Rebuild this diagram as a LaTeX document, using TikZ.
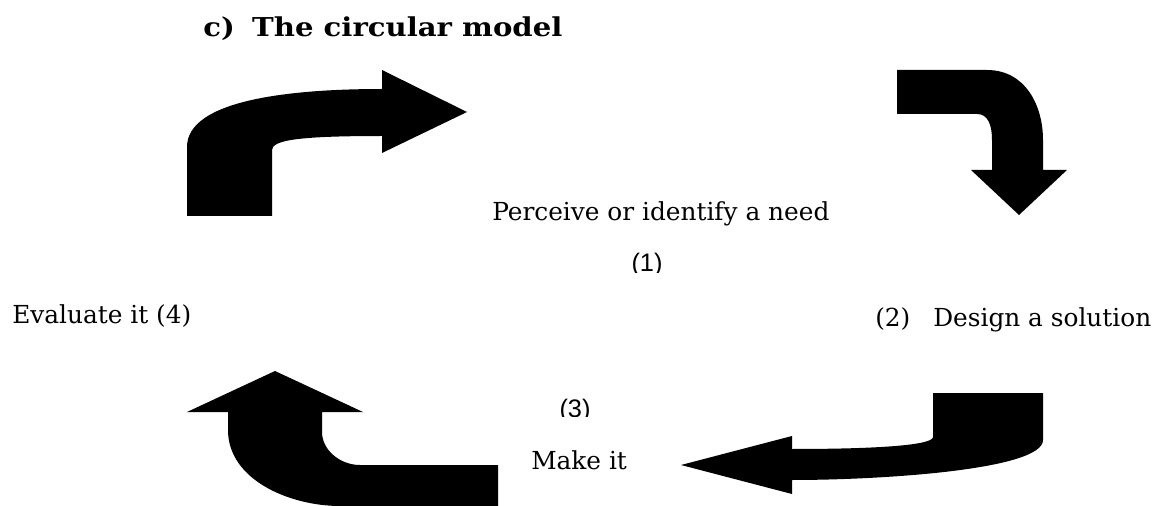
\documentclass[tikz,border=0pt]{standalone}
\usepackage{fontspec}
\setmainfont{DejaVu Serif}
\newfontfamily\numfont{Liberation Sans}
\begin{document}
\begin{tikzpicture}[x=0.75pt,y=-0.75pt,
  lbl/.style={inner sep=0pt,anchor=base west,font=\fontsize{18.6}{22}\selectfont},
  num/.style={inner sep=0pt,anchor=base,font=\numfont\fontsize{19}{22}\selectfont},
  ttl/.style={inner sep=0pt,anchor=base west,font=\bfseries\fontsize{19.5}{23}\selectfont},
  blk/.style={fill=black,draw=none}]
\useasboundingbox (0,0) rectangle (1165,506);
% arrows
\path[blk] (187,216) -- (187,147) .. controls (187,100) and (290,89) .. (382,89)
  -- (382,70) -- (467,112) -- (382,153) -- (382,136)
  .. controls (300,136) and (272,140) .. (272,150) -- (272,216) -- cycle;
\path[blk] (897,70) -- (987,70) .. controls (1025,70) and (1043,105) .. (1043,140)
  -- (1043,170) -- (1067,170) -- (1019,215) -- (971,170) -- (992,170) -- (992,140)
  .. controls (992,125) and (988,114) .. (977,114) -- (897,114) -- cycle;
\path[blk] (228,412) -- (187,412) -- (275,371) -- (363,412) -- (322,412) -- (322,432)
  .. controls (322,450) and (340,465) .. (360,465) -- (498,465) -- (498,506)
  -- (340,506) .. controls (290,506) and (228,480) .. (228,430) -- cycle;
\path[blk] (933,393) -- (1043,393) -- (1043,440) .. controls (1043,470) and (880,480) .. (792,480)
  -- (792,494) -- (681,465) -- (792,436) -- (792,449)
  .. controls (880,449) and (933,445) .. (933,437) -- cycle;
% texts
\node[ttl] (title) at (203,37) {\scalebox{1.12}[1]{c)\hspace{0.6em}The circular model}};
\node[lbl] (perceive) at (492,221) {Perceive or identify a need};
\begin{scope}
\clip (600,240) rectangle (700,273);
\node[num] (n1) at (647,272) {(1)};
\end{scope}
\node[lbl] (evaluate) at (12,324) {Evaluate it (4)};
\node[lbl] (n2) at (875,326) {(2)};
\node[lbl] (design) at (933,326) {Design a solution};
\begin{scope}
\clip (540,385) rectangle (620,416);
\node[num] (n3) at (575,417) {(3)};
\end{scope}
\node[lbl] (make) at (531,469) {Make it};
\end{tikzpicture}
\end{document}
